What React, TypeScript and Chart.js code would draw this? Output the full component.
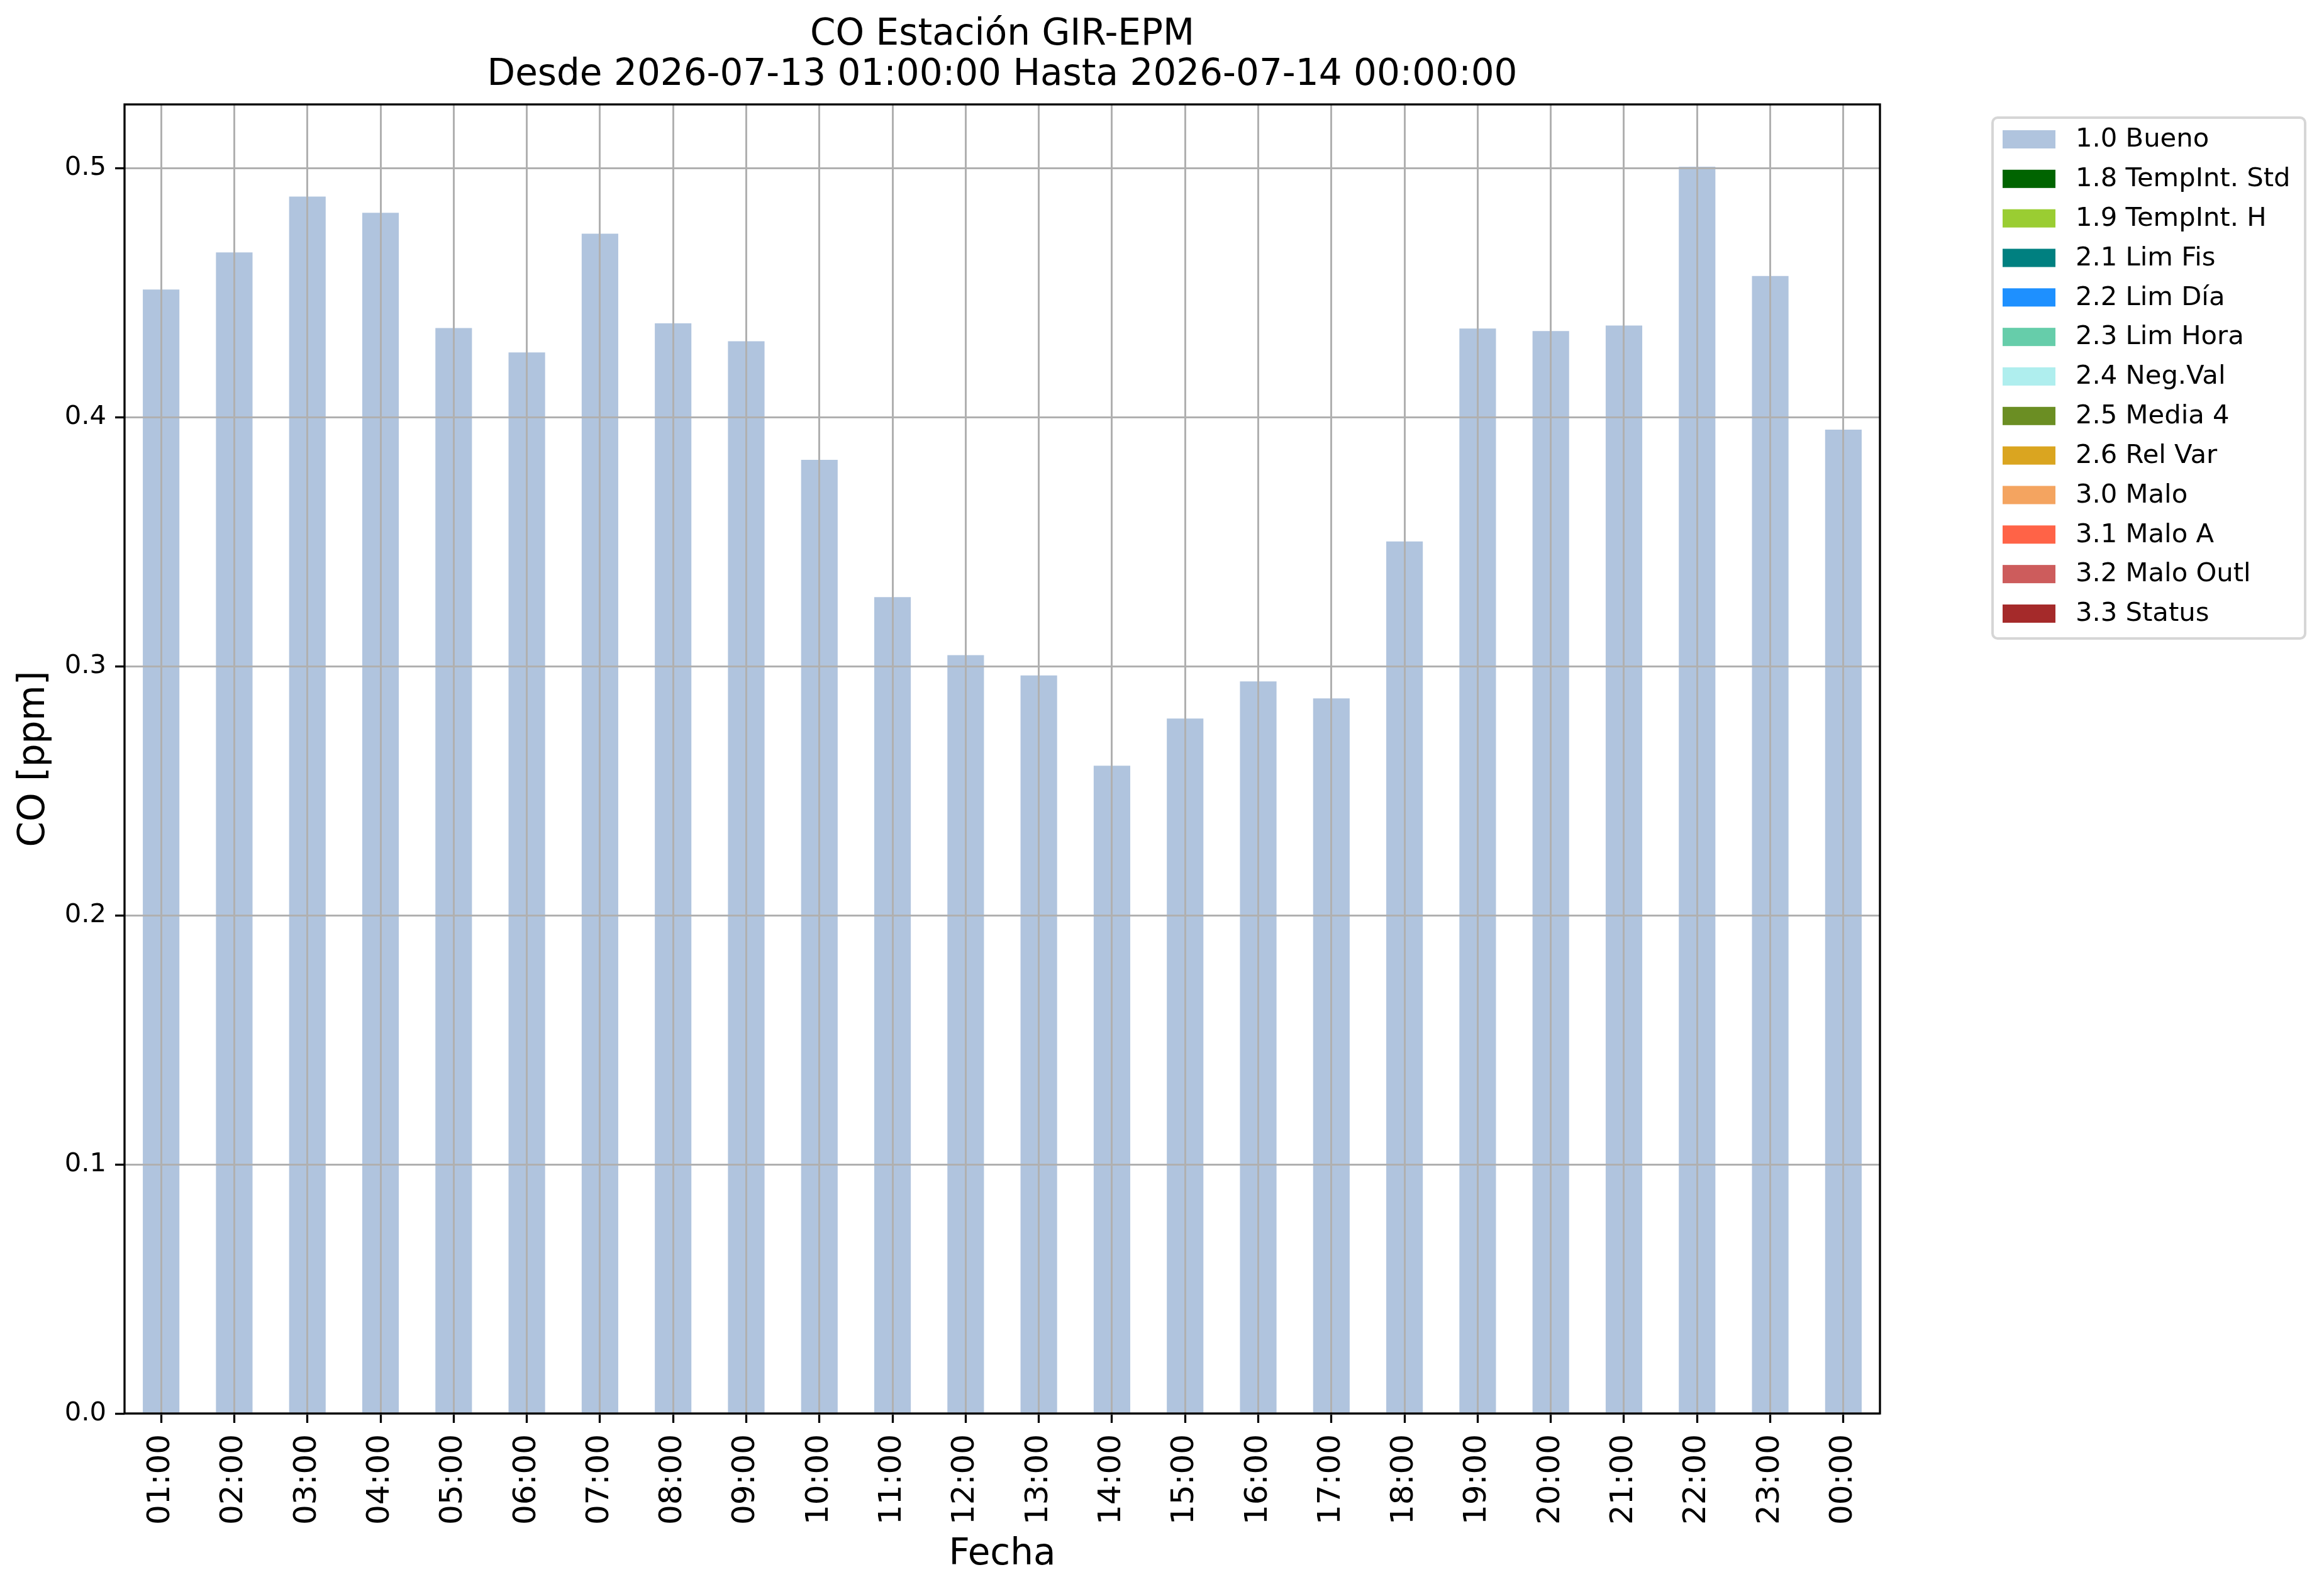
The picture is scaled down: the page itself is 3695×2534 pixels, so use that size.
import React, { useEffect, useRef } from 'react';
import { Chart, registerables } from 'chart.js';

Chart.register(...registerables);

// ---- Data ----
const categories = [
  '01:00', '02:00', '03:00', '04:00', '05:00', '06:00', '07:00', '08:00',
  '09:00', '10:00', '11:00', '12:00', '13:00', '14:00', '15:00', '16:00',
  '17:00', '18:00', '19:00', '20:00', '21:00', '22:00', '23:00', '00:00',
];

const buenoValues = [
  0.4513, 0.4662, 0.4886, 0.4821, 0.4358, 0.4260, 0.4737, 0.4377,
  0.4305, 0.3829, 0.3278, 0.3045, 0.2963, 0.2601, 0.2790, 0.2939,
  0.2871, 0.3501, 0.4356, 0.4346, 0.4368, 0.5006, 0.4567, 0.3950,
];

const flagLabels = [
  '1.0 Bueno', '1.8 TempInt. Std', '1.9 TempInt. H', '2.1 Lim Fis', '2.2 Lim Día',
  '2.3 Lim Hora', '2.4 Neg.Val', '2.5 Media 4', '2.6 Rel Var', '3.0 Malo',
  '3.1 Malo A', '3.2 Malo Outl', '3.3 Status',
];

const flagColors = [
  '#B0C4DE', '#006400', '#9ACD32', '#008080', '#1E90FF',
  '#66CDAA', '#AFEEEE', '#6B8E23', '#DAA520', '#F4A460',
  '#FF6347', '#CD5C5C', '#A52A2A',
];

const yTickValues = [0, 0.1, 0.2, 0.3, 0.4, 0.5];
const yMax = 0.5256;

const titleLines = ['CO Estación GIR-EPM', 'Desde 2026-07-13 01:00:00 Hasta 2026-07-14 00:00:00'];
const xAxisLabel = 'Fecha';
const yAxisLabel = 'CO [ppm]';

const FONT = "'DejaVu Sans', 'Liberation Sans', sans-serif";

const backgroundPlugin = {
  id: 'whiteBackground',
  beforeDraw(chart: any) {
    const ctx = chart.ctx;
    ctx.save();
    ctx.fillStyle = '#ffffff';
    ctx.fillRect(0, 0, chart.width, chart.height);
    ctx.restore();
  },
};

const framePlugin = {
  id: 'axesFrame',
  afterDraw(chart: any) {
    const { ctx, chartArea } = chart;
    ctx.save();
    ctx.strokeStyle = '#000000';
    ctx.lineWidth = 3.3;
    ctx.strokeRect(chartArea.left, chartArea.top, chartArea.right - chartArea.left, chartArea.bottom - chartArea.top);
    ctx.restore();
  },
};

const legendPlugin = {
  id: 'mplLegend',
  afterDraw(chart: any) {
    const ctx = chart.ctx;
    const datasets = chart.data.datasets;
    const left = 3168;
    const top = 187;
    const right = 3665;
    const bottom = 1015;
    ctx.save();
    ctx.beginPath();
    ctx.roundRect(left, top, right - left, bottom - top, 8);
    ctx.fillStyle = 'rgba(255,255,255,0.8)';
    ctx.fill();
    ctx.lineWidth = 4;
    ctx.strokeStyle = '#d6d6d6';
    ctx.stroke();
    ctx.font = `41.7px ${FONT}`;
    ctx.textBaseline = 'middle';
    ctx.textAlign = 'left';
    datasets.forEach((d: any, i: number) => {
      const cy = 221.5 + i * 62.83;
      ctx.fillStyle = d.backgroundColor;
      ctx.fillRect(3184, cy - 14.5, 84, 29);
      ctx.fillStyle = '#000000';
      ctx.fillText(d.label, 3300, cy + 1);
    });
    ctx.restore();
  },
};

export default function App() {
  const canvasRef = useRef<HTMLCanvasElement>(null);

  useEffect(() => {
    document.body.style.margin = '0';
    const canvas = canvasRef.current;
    if (!canvas) return;

    const datasets = flagLabels.map((label, i) => ({
      label,
      data: i === 0 ? buenoValues : [],
      backgroundColor: flagColors[i],
      borderWidth: 0,
      barPercentage: 0.5,
      categoryPercentage: 1.0,
    }));

    const gridStyle = {
      display: true,
      offset: false,
      z: 1,
      color: '#b0b0b0',
      lineWidth: 3,
      drawTicks: true,
      tickLength: 15,
      tickColor: '#000000',
      tickWidth: 3.3,
    };

    const chart = new Chart(canvas, {
      type: 'bar',
      data: { labels: categories, datasets },
      plugins: [backgroundPlugin, framePlugin, legendPlugin],
      options: {
        responsive: false,
        animation: false,
        devicePixelRatio: 1,
        layout: { padding: { left: 0, top: 0, right: 706, bottom: 0 } },
        plugins: {
          legend: { display: false },
          tooltip: { enabled: false },
          title: {
            display: true,
            text: titleLines,
            fullSize: false,
            color: '#000000',
            font: { family: FONT, size: 58, weight: 'normal', lineHeight: 64 / 58 },
            padding: { top: 24, bottom: 14 },
          },
        },
        scales: {
          x: {
            type: 'category',
            stacked: true,
            offset: true,
            z: 1,
            grid: gridStyle,
            border: { display: false },
            ticks: {
              color: '#000000',
              font: { family: FONT, size: 50 },
              minRotation: 90,
              maxRotation: 90,
              autoSkip: false,
              padding: 18,
            },
            title: {
              display: true,
              text: xAxisLabel,
              color: '#000000',
              font: { family: FONT, size: 58, lineHeight: 1.2 },
              padding: { top: 0, bottom: 27 },
            },
            afterFit: (s: any) => { s.height = 287; },
          },
          y: {
            type: 'linear',
            stacked: true,
            min: 0,
            max: yMax,
            z: 1,
            afterBuildTicks: (s: any) => { s.ticks = yTickValues.map((v) => ({ value: v })); },
            grid: gridStyle,
            border: { display: false },
            ticks: {
              color: '#000000',
              font: { family: FONT, size: 41.7 },
              padding: 14,
              callback: (v: any) => Number(v).toFixed(1),
            },
            title: {
              display: true,
              text: yAxisLabel,
              color: '#000000',
              font: { family: FONT, size: 58, lineHeight: 1.2 },
              padding: { top: 20, bottom: 0 },
            },
            afterFit: (s: any) => { s.width = 198; },
          },
        },
      } as any,
    });

    return () => chart.destroy();
  }, []);

  return (
    <div style={{ width: 3695, height: 2534 }}>
      <canvas
        ref={canvasRef}
        width={3695}
        height={2534}
        style={{ width: '3695px', height: '2534px', display: 'block' }}
      />
    </div>
  );
}
